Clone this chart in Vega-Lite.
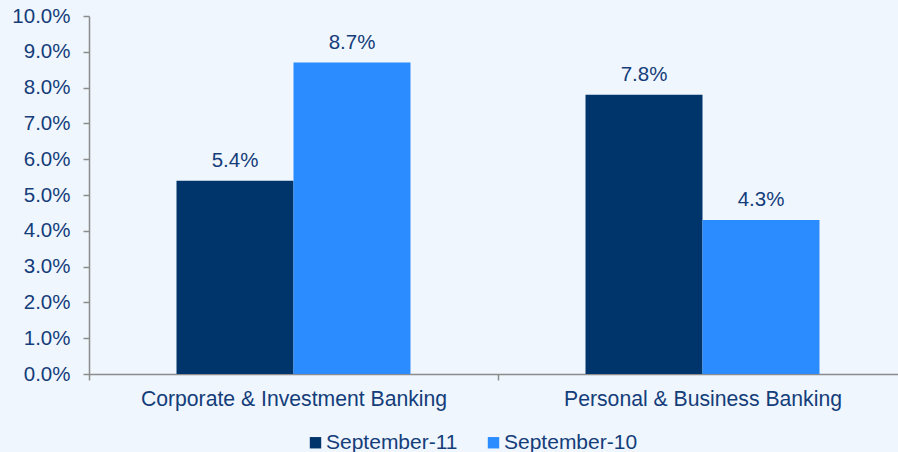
{
  "$schema": "https://vega.github.io/schema/vega-lite/v6.json",
  "width": 809,
  "height": 358,
  "autosize": {"type": "none"},
  "padding": {"left": 89, "top": 16, "right": 0, "bottom": 78},
  "background": "#eff6fe",
  "config": {
    "view": {"stroke": null},
    "font": "Liberation Sans"
  },
  "data": {
    "values": [
      {"segment": "Corporate & Investment Banking", "period": "September-11", "value": 0.054},
      {"segment": "Corporate & Investment Banking", "period": "September-10", "value": 0.087},
      {"segment": "Personal & Business Banking", "period": "September-11", "value": 0.078},
      {"segment": "Personal & Business Banking", "period": "September-10", "value": 0.043}
    ]
  },
  "layer": [
    {
      "mark": {"type": "bar"},
      "encoding": {
        "x": {
          "field": "segment", "type": "nominal", "sort": null,
          "scale": {"range": [0, 818], "paddingInner": 0, "paddingOuter": 0},
          "axis": {"title": null, "labelAngle": 0, "tickBand": "extent", "tickSize": 6, "labelPadding": 8, "domainWidth": 1.5, "tickWidth": 1.5, "labelFontSize": 21.2, "labelLimit": 0, "labelColor": "#143d7a", "domainColor": "#8c8c8c", "tickColor": "#8c8c8c", "grid": false}
        },
        "xOffset": {
          "field": "period", "type": "nominal", "sort": ["September-11", "September-10"],
          "scale": {"paddingInner": 0, "paddingOuter": 0.748}
        },
        "y": {
          "field": "value", "type": "quantitative",
          "scale": {"domain": [0, 0.1]},
          "axis": {"title": null, "format": ".1%", "tickCount": 11, "values": [0, 0.01, 0.02, 0.03, 0.04, 0.05, 0.06, 0.07, 0.08, 0.09, 0.1], "tickSize": 6, "labelPadding": 13, "domainWidth": 1.5, "tickWidth": 1.5, "labelFontSize": 20.5, "labelColor": "#143d7a", "domainColor": "#8c8c8c", "tickColor": "#8c8c8c", "grid": false, "labelOverlap": false}
        },
        "color": {
          "field": "period", "type": "nominal", "sort": ["September-11", "September-10"],
          "scale": {"domain": ["September-11", "September-10"], "range": ["#00356b", "#2a8cff"]},
          "legend": {
            "orient": "none", "direction": "horizontal", "title": null,
            "legendX": 216, "legendY": 416,
            "symbolType": "square", "symbolSize": 130, "symbolStrokeWidth": 0,
            "labelFontSize": 21, "labelColor": "#143d7a",
            "columnPadding": 25, "labelOffset": 0
          }
        }
      }
    },
    {
      "mark": {"type": "text", "baseline": "bottom", "dy": -10, "fontSize": 20.5, "color": "#143d7a"},
      "encoding": {
        "x": {"field": "segment", "type": "nominal", "sort": null},
        "xOffset": {"field": "period", "type": "nominal", "sort": ["September-11", "September-10"]},
        "y": {"field": "value", "type": "quantitative"},
        "text": {"field": "value", "type": "quantitative", "format": ".1%"}
      }
    }
  ]
}
